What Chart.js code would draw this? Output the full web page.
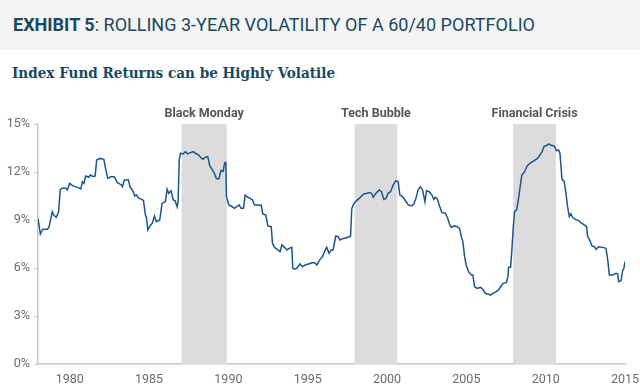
<!DOCTYPE html>
<html>
<head>
<meta charset="utf-8">
<script src="https://cdn.jsdelivr.net/npm/chart.js@4"></script>
<style>
  html, body { margin: 0; padding: 0; background: #fff; }
  #wrap { position: relative; width: 640px; height: 390px; overflow: hidden; }
  #head { position: absolute; left: 0; top: 0; width: 640px; height: 50px; background: #f4f4f4; }
  .txt { position: absolute; white-space: nowrap; transform-origin: left center; color: #18495f; }
  #title { left: 13px; top: 14px; font: 18px Roboto, sans-serif; line-height: 22px; }
  #title b { font-weight: 700; }
  #subtitle { left: 12px; top: 63px; font-family: "DejaVu Serif", serif; font-weight: 700; font-stretch: condensed; font-size: 15px; line-height: 20px; }
  #chart { position: absolute; left: 0; top: 0; }
</style>
</head>
<body>
<div id="wrap">
  <div id="head"></div>
  <div id="title" class="txt"><b>EXHIBIT 5</b>: ROLLING 3-YEAR VOLATILITY OF A 60/40 PORTFOLIO</div>
  <div id="subtitle" class="txt">Index Fund Returns can be Highly Volatile</div>
  <canvas id="chart" width="640" height="390"></canvas>
</div>
<script>
// rolling 3-year volatility (%), x in decimal years
const years = [
  1978.0, 1978.15, 1978.3, 1978.6, 1978.7, 1978.9, 1979.0, 1979.15, 1979.3, 1979.4,
  1979.5, 1979.75, 1979.85, 1980.0, 1980.2, 1980.5, 1980.7, 1980.8, 1980.9, 1981.0,
  1981.2, 1981.3, 1981.5, 1981.6, 1981.7, 1981.9, 1982.15, 1982.3, 1982.4, 1982.6,
  1982.8, 1983.0, 1983.1, 1983.25, 1983.32, 1983.45, 1983.7, 1983.8, 1984.0, 1984.1,
  1984.2, 1984.35, 1984.55, 1984.65, 1984.77, 1984.83, 1984.92, 1985.1, 1985.2, 1985.34,
  1985.46, 1985.67, 1985.82, 1986.03, 1986.14, 1986.24, 1986.39, 1986.52, 1986.64, 1986.77,
  1986.83, 1986.9, 1986.98, 1987.15, 1987.29, 1987.44, 1987.61, 1987.78, 1987.92, 1988.13,
  1988.24, 1988.39, 1988.55, 1988.7, 1988.83, 1988.97, 1989.12, 1989.25, 1989.4, 1989.54,
  1989.67, 1989.77, 1989.84, 1989.88, 1990.03, 1990.24, 1990.38, 1990.53, 1990.68, 1990.8,
  1990.95, 1991.06, 1991.22, 1991.37, 1991.52, 1991.64, 1991.9, 1992.07, 1992.17, 1992.36,
  1992.49, 1992.7, 1992.78, 1992.9, 1993.12, 1993.26, 1993.37, 1993.54, 1993.68, 1993.83,
  1994.0, 1994.06, 1994.17, 1994.31, 1994.52, 1994.67, 1994.84, 1995.05, 1995.26, 1995.43,
  1995.58, 1995.72, 1995.93, 1996.06, 1996.2, 1996.35, 1996.48, 1996.6, 1996.77, 1996.92,
  1997.03, 1997.24, 1997.55, 1997.7, 1997.78, 1997.91, 1998.08, 1998.25, 1998.39, 1998.54,
  1998.75, 1998.88, 1999.02, 1999.13, 1999.3, 1999.51, 1999.65, 1999.8, 1999.93, 2000.07,
  2000.22, 2000.39, 2000.56, 2000.7, 2000.81, 2000.98, 2001.13, 2001.34, 2001.55, 2001.69,
  2001.82, 2001.97, 2002.11, 2002.24, 2002.39, 2002.49, 2002.66, 2002.83, 2002.95, 2003.04,
  2003.16, 2003.31, 2003.46, 2003.67, 2003.8, 2003.94, 2004.05, 2004.22, 2004.43, 2004.57,
  2004.68, 2004.78, 2004.89, 2004.99, 2005.14, 2005.31, 2005.41, 2005.52, 2005.69, 2005.9,
  2006.04, 2006.19, 2006.36, 2006.51, 2006.68, 2006.89, 2007.03, 2007.16, 2007.31, 2007.52,
  2007.62, 2007.66, 2007.79, 2007.87, 2007.96, 2008.04, 2008.17, 2008.29, 2008.42, 2008.5,
  2008.67, 2008.84, 2009.07, 2009.28, 2009.49, 2009.64, 2009.77, 2009.91, 2010.02, 2010.19,
  2010.33, 2010.54, 2010.69, 2010.82, 2010.9, 2011.03, 2011.17, 2011.28, 2011.38, 2011.49,
  2011.59, 2011.7, 2011.87, 2012.08, 2012.22, 2012.43, 2012.58, 2012.64, 2012.79, 2012.92,
  2013.07, 2013.17, 2013.34, 2013.59, 2013.8, 2013.91, 2014.01, 2014.22, 2014.43, 2014.54,
  2014.6, 2014.75, 2014.85, 2014.93, 2015.0
];
const volatility = [
  9.1, 8.12, 8.42, 8.42, 8.58, 9.52, 9.3, 9.17, 9.52, 10.88,
  10.98, 10.98, 10.88, 11.29, 11.13, 11.04, 10.94, 11.39, 11.29, 11.75,
  11.67, 11.81, 11.71, 11.75, 12.75, 12.85, 12.79, 12.02, 11.6, 11.71,
  11.71, 11.33, 11.29, 11.19, 11.08, 11.5, 11.5, 11.08, 10.77, 10.5,
  10.56, 10.36, 10.29, 10.21, 9.31, 9.17, 8.38, 8.69, 8.79, 9.25,
  8.9, 9.0, 10.04, 10.15, 10.92, 10.67, 10.83, 10.25, 10.21, 9.83,
  10.15, 12.75, 13.17, 13.13, 13.27, 13.13, 13.21, 13.27, 13.17, 13.06,
  12.92, 12.79, 12.92, 12.96, 12.38, 12.17, 11.92, 11.58, 11.58, 12.1,
  12.04, 12.6, 12.6, 10.46, 9.94, 9.83, 9.73, 9.83, 9.94, 9.73,
  9.73, 10.56, 10.42, 10.35, 10.25, 9.94, 9.94, 9.92, 9.38, 9.31,
  8.63, 8.58, 7.54, 7.29, 7.13, 7.02, 7.44, 7.29, 7.13, 7.23,
  7.29, 5.98, 5.92, 5.98, 6.25, 6.08, 6.19, 6.25, 6.33, 6.33,
  6.19, 6.46, 6.71, 7.02, 7.29, 6.92, 7.13, 7.13, 8.0, 7.96,
  7.75, 7.85, 7.92, 8.0, 9.73, 10.04, 10.21, 10.35, 10.5, 10.63,
  10.67, 10.71, 10.67, 10.42, 10.67, 10.88, 10.77, 10.29, 10.35, 10.67,
  10.77, 11.19, 11.46, 11.4, 10.56, 10.46, 10.25, 9.94, 9.88, 10.0,
  10.35, 10.92, 11.08, 10.88, 10.15, 10.83, 10.77, 10.56, 10.29, 10.42,
  10.35, 9.88, 9.46, 9.42, 9.17, 8.75, 8.54, 8.63, 8.58, 8.48,
  7.96, 7.65, 6.71, 6.19, 5.77, 5.56, 5.56, 4.83, 4.73, 4.79,
  4.67, 4.42, 4.38, 4.31, 4.42, 4.52, 4.63, 4.83, 5.04, 5.08,
  5.46, 6.04, 6.04, 7.13, 8.58, 9.52, 9.63, 10.35, 11.29, 11.81,
  12.02, 12.4, 12.58, 12.71, 12.85, 13.06, 13.27, 13.63, 13.63, 13.75,
  13.67, 13.63, 13.33, 13.38, 13.17, 11.54, 11.4, 10.67, 9.83, 9.21,
  9.38, 9.17, 9.04, 8.96, 8.83, 8.69, 8.58, 8.0, 7.71, 7.38,
  7.33, 7.17, 7.33, 7.29, 7.23, 6.54, 5.56, 5.56, 5.67, 5.63,
  5.15, 5.21, 5.83, 5.98, 6.4
];

const eventNames = ['Black Monday', 'Tech Bubble', 'Financial Crisis'];
const eventStart = [1987.05, 1997.95, 2007.95];
const eventEnd = [1989.9, 2000.65, 2010.65];

const xTicks = [1980, 1985, 1990, 1995, 2000, 2005, 2010, 2015];
const yTicks = [0, 3, 6, 9, 12, 15];

// squeeze the header texts to the reference widths (condensed face not installed)
function fitWidth(id, w) {
  const el = document.getElementById(id);
  el.style.transform = 'scaleX(' + (w / el.offsetWidth) + ')';
}
fitWidth('title', 522);
fitWidth('subtitle', 323);

const shadePlugin = {
  id: 'shade',
  beforeDatasetsDraw(chart) {
    const { ctx, chartArea, scales } = chart;
    ctx.save();
    for (let i = 0; i < eventNames.length; i++) {
      const x0 = scales.x.getPixelForValue(eventStart[i]);
      const x1 = scales.x.getPixelForValue(eventEnd[i]);
      ctx.fillStyle = '#dcdcdc';
      ctx.fillRect(x0, chartArea.top, x1 - x0, chartArea.bottom - chartArea.top);
      ctx.fillStyle = '#555555';
      ctx.font = 'bold 12.5px Roboto';
      ctx.textAlign = 'center';
      ctx.textBaseline = 'middle';
      ctx.fillText(eventNames[i], (x0 + x1) / 2, chartArea.top - 10);
    }
    ctx.restore();
  }
};

Chart.defaults.font.family = 'Roboto';

new Chart(document.getElementById('chart'), {
  type: 'line',
  data: {
    datasets: [{
      data: years.map((y, i) => ({ x: y, y: volatility[i] })),
      borderColor: '#1c5490',
      borderWidth: 1.5,
      pointRadius: 0,
      tension: 0,
      fill: false
    }]
  },
  options: {
    responsive: false,
    animation: false,
    layout: { padding: { top: 124, right: 0, left: 0, bottom: 0 } },
    plugins: { legend: { display: false }, tooltip: { enabled: false } },
    scales: {
      x: {
        type: 'linear',
        min: 1978,
        max: 2015,
        afterBuildTicks: s => { s.ticks = xTicks.map(v => ({ value: v })); },
        afterFit: s => { s.height = 26; s.paddingLeft = 0; s.paddingRight = 15; },
        grid: { drawOnChartArea: false, drawTicks: false },
        border: { color: '#c8c8c8', width: 1.5 },
        ticks: {
          color: '#6b6b6b',
          font: { size: 12.5 },
          padding: 8,
          maxRotation: 0,
          callback: v => String(v)
        }
      },
      y: {
        min: 0,
        max: 15,
        afterBuildTicks: s => { s.ticks = yTicks.map(v => ({ value: v })); },
        afterFit: s => { s.width = 38; },
        grid: { drawOnChartArea: false, tickLength: 4, color: '#c8c8c8' },
        border: { color: '#c8c8c8', width: 1.5 },
        ticks: {
          color: '#6b6b6b',
          font: { size: 12.5 },
          padding: 4,
          callback: v => v + '%'
        }
      }
    }
  },
  plugins: [shadePlugin]
});
</script>
</body>
</html>
